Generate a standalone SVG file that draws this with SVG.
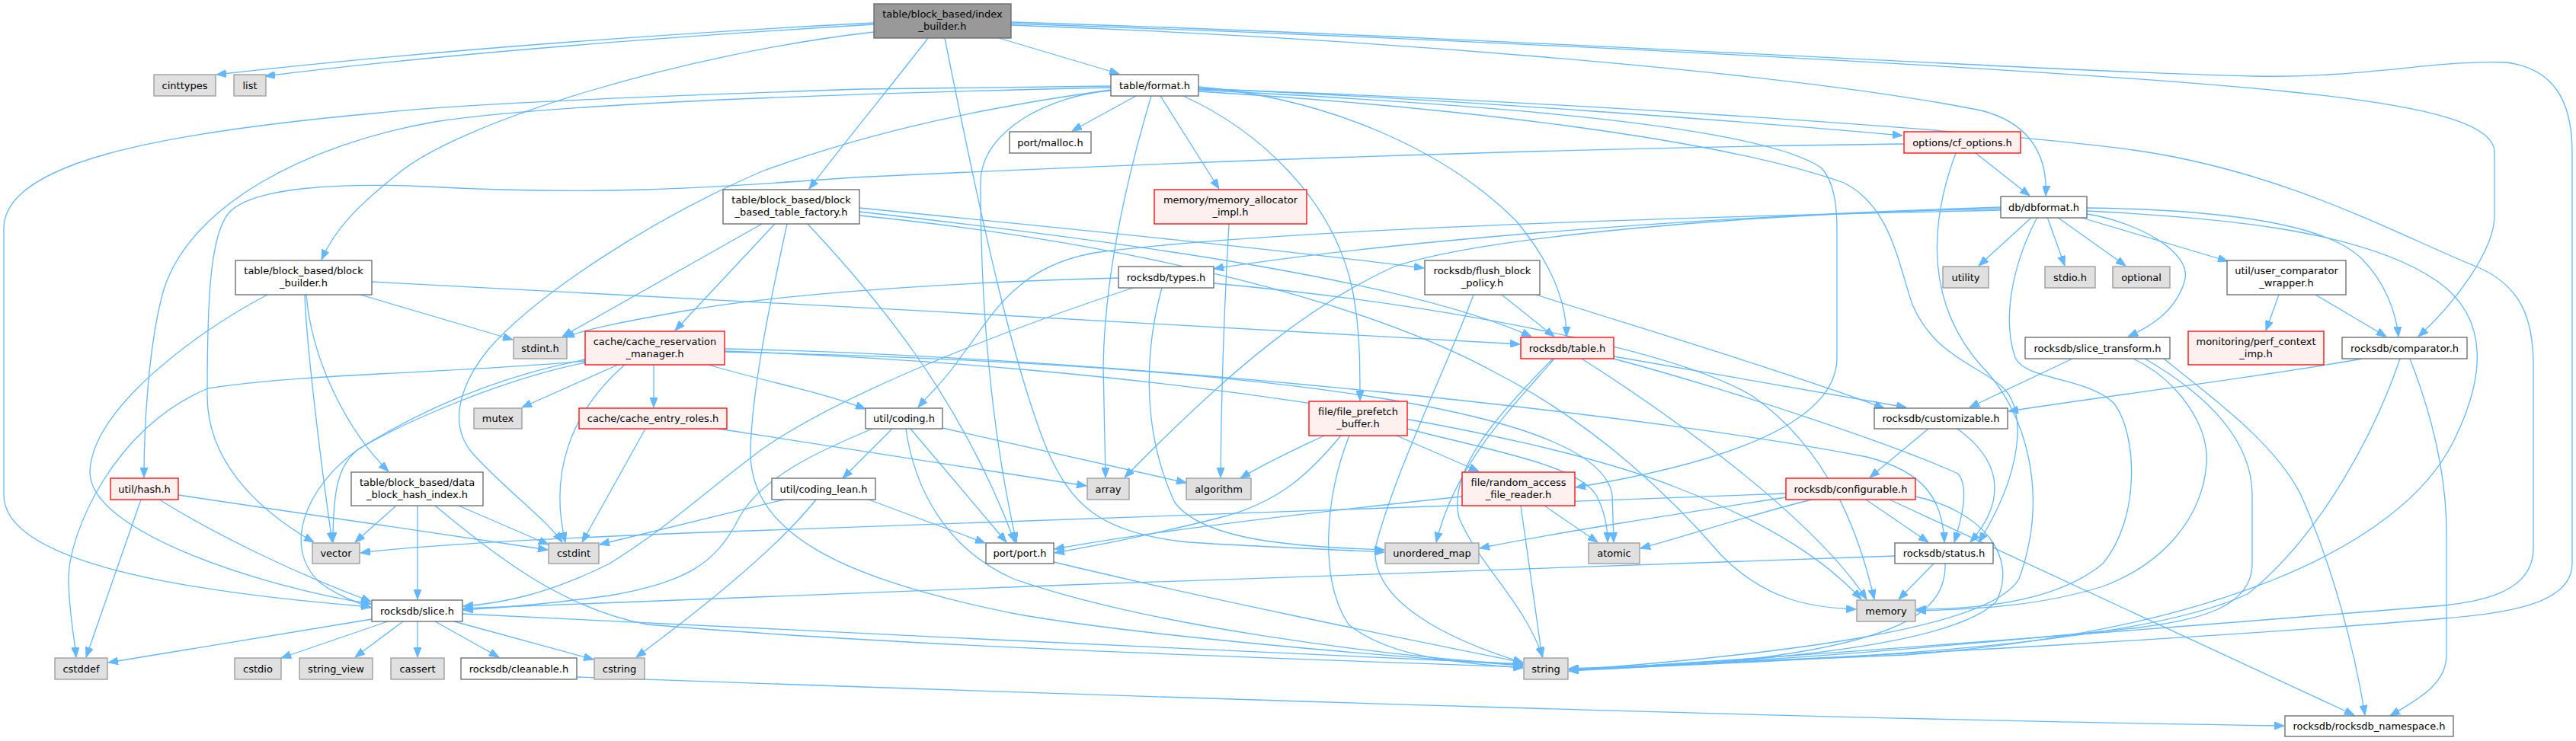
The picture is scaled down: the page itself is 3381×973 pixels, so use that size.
<svg xmlns="http://www.w3.org/2000/svg" width="3381" height="973" viewBox="0 0 3381 973">
<style>
.e{fill:none;stroke:#63b8ff;stroke-width:1.3;marker-end:url(#a)}
rect{stroke-width:1.3}
.n rect{fill:#ffffff;stroke:#666666}
.g rect{fill:#e0e0e0;stroke:#999999}
.r rect{fill:#fff0f0;stroke:#ff0000}
.root rect{fill:#999999;stroke:#666666}
text{font-family:"DejaVu Sans","Liberation Sans",sans-serif;font-size:13px;text-anchor:middle;fill:#000000}
</style>
<defs>
<marker id="a" markerWidth="13" markerHeight="10" refX="13" refY="5" orient="auto" markerUnits="userSpaceOnUse"><path d="M0,0 L13,5 L0,10 z" fill="#63b8ff" stroke="#63b8ff" stroke-width="1"/></marker>
</defs>
<rect x="0" y="0" width="3381" height="973" fill="#ffffff"/>
<g id="connectors">
<path class="e" d="M1147,30 C950,40 600,62 284,98"/>
<path class="e" d="M1147,32 C950,44 620,66 348,100"/>
<path class="e" d="M1311,50 L1469,97"/>
<path class="e" d="M1147,42 C900,70 600,160 520,230 C470,270 440,300 422,341"/>
<path class="e" d="M1218,50 C1180,100 1110,185 1062,248"/>
<path class="e" d="M1240,50 C1290,300 1330,480 1374,590 C1405,660 1440,700 1560,712 C1650,718 1760,722 1817,725"/>
<path class="e" d="M1327,33 C1800,50 2350,95 2600,145 C2660,160 2688,200 2685,257"/>
<path class="e" d="M1327,31 C1900,50 2700,90 3000,120 C3200,140 3274,165 3274,200 L3274,283 C3274,330 3220,400 3174,442"/>
<path class="e" d="M1327,29 C2000,50 2700,95 2959,100 C3100,103 3200,78 3290,82 C3350,90 3376,130 3376,200 L3376,740 C3376,790 3300,805 3208,812 C3000,830 2500,862 2059,878"/>
<path class="e" d="M1458,113 L1130,117 C900,125 620,135 500,148 C200,175 5,215 5,300 L5,650 C5,740 250,778 487,797"/>
<path class="e" d="M1458,115 C1000,125 700,140 570,160 C400,190 250,270 215,380 C195,450 189,560 189,627"/>
<path class="e" d="M1458,118 C1300,140 1150,170 1000,225 C850,290 700,390 640,460 C600,510 590,560 620,595 C660,640 715,680 738,712"/>
<path class="e" d="M1458,119 C1380,125 1287,170 1287,240 C1287,400 1300,560 1334,712"/>
<path class="e" d="M1491,126 L1407,172"/>
<path class="e" d="M1523,126 L1600,248"/>
<path class="e" d="M1511,126 C1480,230 1450,360 1448,480 L1451,627"/>
<path class="e" d="M1553,126 C1650,170 1750,260 1775,380 C1785,430 1785,480 1785,526"/>
<path class="e" d="M1573,114 C1750,130 1900,200 1990,290 C2040,350 2056,400 2056,442"/>
<path class="e" d="M1573,116 C1900,130 2300,160 2497,178"/>
<path class="e" d="M1573,118 C1900,135 2300,160 2390,220 C2410,240 2411,280 2411,300 L2411,470 C2411,560 2250,610 2068,640"/>
<path class="e" d="M1573,120 C1900,140 2250,180 2420,240 C2480,270 2490,340 2510,400 C2540,470 2600,480 2630,510 C2660,540 2655,620 2597,712"/>
<path class="e" d="M1573,117 C2000,130 2600,170 2800,197 C3000,225 3150,310 3250,350 C3310,375 3325,420 3325,480 L3325,720 C3325,780 3250,790 3208,795 C2900,820 2400,860 2059,880"/>
<path class="e" d="M473,387 L673,446"/>
<path class="e" d="M488,370 C900,390 1600,430 1995,452"/>
<path class="e" d="M351,387 C250,440 120,540 118,620 C118,700 350,772 487,793"/>
<path class="e" d="M400,387 C402,450 420,600 436,712"/>
<path class="e" d="M402,387 C410,480 460,570 510,619"/>
<path class="e" d="M1000,294 L738,442"/>
<path class="e" d="M1017,294 L886,434"/>
<path class="e" d="M1033,294 C1010,400 985,520 985,600 C990,700 1100,760 1338,807 C1500,835 1800,860 1999,874"/>
<path class="e" d="M1060,294 C1150,390 1260,520 1332,712"/>
<path class="e" d="M1128,273 C1400,300 1700,330 1869,352"/>
<path class="e" d="M1128,278 C1500,320 1850,370 2010,442"/>
<path class="e" d="M1128,283 C1500,320 1800,400 1964,490 C2100,560 2200,660 2260,730 C2320,790 2380,798 2436,800"/>
<path class="e" d="M2499,189 C2000,195 1500,215 1120,233 C950,245 800,258 560,245 C450,240 330,245 300,280 C275,310 272,400 272,520 C272,600 330,665 412,712"/>
<path class="e" d="M2593,201 L2664,257"/>
<path class="e" d="M2567,201 C2530,300 2530,400 2600,480 C2660,540 2690,650 2650,760 C2610,830 2300,862 2059,880"/>
<path class="e" d="M2667,285 L2597,349"/>
<path class="e" d="M2687,285 L2710,349"/>
<path class="e" d="M2700,285 L2790,349"/>
<path class="e" d="M2739,281 C2800,290 2880,330 2867,370 C2855,410 2820,430 2793,442"/>
<path class="e" d="M2729,285 L2924,343"/>
<path class="e" d="M2739,273 C2900,275 3050,290 3100,340 C3130,370 3145,410 3148,442"/>
<path class="e" d="M2739,277 C2900,285 3100,300 3200,370 C3270,420 3260,500 3220,580 C3150,720 2900,830 2500,860 C2300,870 2150,876 2059,879"/>
<path class="e" d="M2626,272 C2200,285 1800,320 1593,353"/>
<path class="e" d="M2626,274 C2300,280 1950,310 1830,350 C1720,400 1620,480 1476,627"/>
<path class="e" d="M2626,276 C2200,285 1700,300 1450,330 C1330,345 1300,420 1260,470 C1240,500 1222,515 1205,535"/>
<path class="e" d="M2674,285 C2640,350 2628,420 2645,470 C2660,500 2740,495 2775,530 C2805,570 2810,680 2760,740 C2700,790 2600,800 2515,800"/>
<path class="e" d="M1468,365 C1200,372 1000,390 900,408 C820,422 770,432 741,443"/>
<path class="e" d="M1487,378 C1300,440 1100,520 1000,590 C920,650 880,690 800,740 C720,780 660,792 608,796"/>
<path class="e" d="M1525,378 C1505,450 1495,560 1542,660 C1580,710 1700,718 1817,722"/>
<path class="e" d="M1593,372 C1900,400 2200,460 2300,520 C2400,590 2440,700 2460,787"/>
<path class="e" d="M1971,387 L2040,442"/>
<path class="e" d="M2016,387 C2150,430 2350,490 2473,536"/>
<path class="e" d="M1934,387 C1900,480 1830,620 1805,720 C1800,790 1900,840 1999,870"/>
<path class="e" d="M811,479 L685,535"/>
<path class="e" d="M858,479 L858,535"/>
<path class="e" d="M820,479 C750,540 720,620 742,712"/>
<path class="e" d="M768,474 C600,490 400,490 273,510 C150,560 90,700 90,760 C90,800 98,840 100,863"/>
<path class="e" d="M768,476 C650,500 520,560 470,590 C445,610 437,640 437,712"/>
<path class="e" d="M768,472 C650,495 550,540 470,590 C400,640 370,720 420,765 C440,780 460,788 487,798"/>
<path class="e" d="M930,479 C1000,500 1080,515 1136,537"/>
<path class="e" d="M951,462 C1300,470 1700,490 1934,547 C2050,575 2110,610 2116,650 L2118,712"/>
<path class="e" d="M951,461 C1500,480 2000,560 2200,640 C2330,690 2400,740 2443,787"/>
<path class="e" d="M951,458 C1500,470 2200,550 2450,600 C2530,620 2550,660 2552,712"/>
<path class="e" d="M2118,468 L2502,535"/>
<path class="e" d="M2118,471 C2300,520 2500,590 2570,622 C2585,640 2575,680 2565,712"/>
<path class="e" d="M2076,471 C2200,550 2380,680 2450,787"/>
<path class="e" d="M2040,471 C1980,540 1910,610 1885,712"/>
<path class="e" d="M2038,471 C1960,550 1900,620 1915,680 C1940,740 2000,790 2025,863"/>
<path class="e" d="M2720,471 L2585,535"/>
<path class="e" d="M2800,471 C2860,500 2900,560 2896,610 C2890,680 2840,740 2760,770 C2680,795 2600,800 2515,802"/>
<path class="e" d="M2815,471 C2900,520 2956,580 2956,650 L2956,740 C2956,800 2880,815 2800,825 C2500,855 2250,872 2059,880"/>
<path class="e" d="M2840,471 C2900,520 2985,580 3020,650 C3060,740 3090,850 3104,939"/>
<path class="e" d="M3100,471 C3000,490 2800,515 2636,540"/>
<path class="e" d="M3163,471 C3190,540 3211,620 3211,700 L3211,860 C3211,900 3170,920 3137,940"/>
<path class="e" d="M3150,471 C3120,560 3050,700 2950,780 C2800,850 2400,866 2059,880"/>
<path class="e" d="M2991,387 L2974,434"/>
<path class="e" d="M3039,387 L3132,442"/>
<path class="e" d="M2531,563 L2454,627"/>
<path class="e" d="M2569,563 C2620,600 2640,650 2586,712"/>
<path class="e" d="M2449,656 L2531,712"/>
<path class="e" d="M2344,648 C1800,668 1200,690 900,700 C700,708 550,716 473,726"/>
<path class="e" d="M2344,653 C2200,675 2050,698 1942,720"/>
<path class="e" d="M2378,656 C2300,675 2220,702 2153,720"/>
<path class="e" d="M2514,652 C2600,670 2650,730 2620,790 C2560,850 2300,870 2059,881"/>
<path class="e" d="M2480,656 L3090,939"/>
<path class="e" d="M2538,740 L2492,787"/>
<path class="e" d="M2553,740 C2555,800 2500,840 2300,865 C2200,872 2120,876 2059,880"/>
<path class="e" d="M2487,730 C2000,745 1200,775 608,799"/>
<path class="e" d="M2027,664 L2097,712"/>
<path class="e" d="M1996,664 L2024,863"/>
<path class="e" d="M1919,652 C1700,675 1500,700 1384,721"/>
<path class="e" d="M1833,572 L1941,619"/>
<path class="e" d="M1847,563 C1950,590 2070,610 2095,650 C2108,675 2110,695 2110,712"/>
<path class="e" d="M1771,572 C1740,650 1730,760 1770,820 C1820,860 1900,870 1999,877"/>
<path class="e" d="M1738,572 C1700,590 1660,608 1628,628"/>
<path class="e" d="M1760,572 C1720,620 1680,660 1600,680 C1500,705 1440,716 1384,726"/>
<path class="e" d="M1237,562 L1557,634"/>
<path class="e" d="M1195,563 L1321,712"/>
<path class="e" d="M1189,563 C1200,640 1240,720 1330,760 C1500,820 1800,860 1999,873"/>
<path class="e" d="M1171,563 L1106,628"/>
<path class="e" d="M1145,563 C1080,590 1000,625 970,680 C940,740 900,765 800,782 C700,796 650,798 608,801"/>
<path class="e" d="M1029,656 L787,715"/>
<path class="e" d="M1071,656 C1020,720 920,800 835,863"/>
<path class="e" d="M1140,656 L1293,713"/>
<path class="e" d="M847,563 L764,712"/>
<path class="e" d="M943,563 L1426,638"/>
<path class="e" d="M185,656 L113,863"/>
<path class="e" d="M209,656 C280,700 380,750 487,790"/>
<path class="e" d="M234,650 L719,722"/>
<path class="e" d="M520,664 L466,712"/>
<path class="e" d="M548,664 L548,787"/>
<path class="e" d="M602,664 L720,715"/>
<path class="e" d="M571,664 C650,730 740,800 850,820 C1200,850 1700,865 1999,876"/>
<path class="e" d="M488,813 L142,870"/>
<path class="e" d="M509,816 L369,864"/>
<path class="e" d="M529,816 L466,863"/>
<path class="e" d="M548,816 L548,863"/>
<path class="e" d="M571,816 L655,863"/>
<path class="e" d="M596,816 L779,866"/>
<path class="e" d="M607,806 C1000,825 1600,855 1999,872"/>
<path class="e" d="M757,889 C1500,915 2400,945 2998,953"/>
<path class="e" d="M1383,738 C1600,790 1850,840 1999,870"/>
<path class="e" d="M1613,294 C1607,400 1603,500 1602,627"/>
</g>
<g id="index_builder" class="root"><rect x="1147" y="5" width="180" height="45"/><text x="1237" y="23">table/block_based/index</text><text x="1237" y="39">_builder.h</text></g>
<g id="cinttypes" class="g"><rect x="202" y="98" width="81" height="28"/><text x="242.5" y="116.5">cinttypes</text></g>
<g id="list" class="g"><rect x="307" y="98" width="42" height="28"/><text x="328" y="116.5">list</text></g>
<g id="format" class="n"><rect x="1458" y="98" width="115" height="28"/><text x="1515.5" y="116.5">table/format.h</text></g>
<g id="malloc" class="n"><rect x="1325" y="173" width="107" height="28"/><text x="1378.5" y="191.5">port/malloc.h</text></g>
<g id="cf_options" class="r"><rect x="2499" y="173" width="153" height="28"/><text x="2575.5" y="191.5">options/cf_options.h</text></g>
<g id="factory" class="n"><rect x="949" y="249" width="179" height="45"/><text x="1038.5" y="267">table/block_based/block</text><text x="1038.5" y="283">_based_table_factory.h</text></g>
<g id="memory_allocator" class="r"><rect x="1515" y="249" width="200" height="45"/><text x="1615" y="267">memory/memory_allocator</text><text x="1615" y="283">_impl.h</text></g>
<g id="dbformat" class="n"><rect x="2626" y="258" width="113" height="28"/><text x="2682.5" y="276.5">db/dbformat.h</text></g>
<g id="block_builder" class="n"><rect x="309" y="342" width="179" height="45"/><text x="398.5" y="360">table/block_based/block</text><text x="398.5" y="376">_builder.h</text></g>
<g id="types" class="n"><rect x="1468" y="350" width="125" height="28"/><text x="1530.5" y="368.5">rocksdb/types.h</text></g>
<g id="flush_block_policy" class="n"><rect x="1870" y="342" width="151" height="45"/><text x="1945.5" y="360">rocksdb/flush_block</text><text x="1945.5" y="376">_policy.h</text></g>
<g id="utility" class="g"><rect x="2550" y="350" width="60" height="28"/><text x="2580" y="368.5">utility</text></g>
<g id="stdio" class="g"><rect x="2684" y="350" width="66" height="28"/><text x="2717" y="368.5">stdio.h</text></g>
<g id="optional" class="g"><rect x="2773" y="350" width="75" height="28"/><text x="2810.5" y="368.5">optional</text></g>
<g id="user_comparator_wrapper" class="n"><rect x="2923" y="342" width="156" height="45"/><text x="3001" y="360">util/user_comparator</text><text x="3001" y="376">_wrapper.h</text></g>
<g id="stdint" class="g"><rect x="674" y="443" width="70" height="28"/><text x="709" y="461.5">stdint.h</text></g>
<g id="cache_reservation_manager" class="r"><rect x="768" y="435" width="183" height="44"/><text x="859.5" y="453">cache/cache_reservation</text><text x="859.5" y="469">_manager.h</text></g>
<g id="table" class="r"><rect x="1996" y="443" width="122" height="28"/><text x="2057" y="461.5">rocksdb/table.h</text></g>
<g id="slice_transform" class="n"><rect x="2658" y="443" width="190" height="28"/><text x="2753" y="461.5">rocksdb/slice_transform.h</text></g>
<g id="perf_context_imp" class="r"><rect x="2872" y="435" width="178" height="44"/><text x="2961" y="453">monitoring/perf_context</text><text x="2961" y="469">_imp.h</text></g>
<g id="comparator" class="n"><rect x="3074" y="443" width="164" height="28"/><text x="3156" y="461.5">rocksdb/comparator.h</text></g>
<g id="mutex" class="g"><rect x="622" y="536" width="63" height="27"/><text x="653.5" y="554">mutex</text></g>
<g id="cache_entry_roles" class="r"><rect x="760" y="536" width="194" height="27"/><text x="857" y="554">cache/cache_entry_roles.h</text></g>
<g id="coding" class="n"><rect x="1136" y="536" width="101" height="27"/><text x="1186.5" y="554">util/coding.h</text></g>
<g id="file_prefetch_buffer" class="r"><rect x="1718" y="527" width="129" height="45"/><text x="1782.5" y="545">file/file_prefetch</text><text x="1782.5" y="561">_buffer.h</text></g>
<g id="customizable" class="n"><rect x="2460" y="536" width="175" height="27"/><text x="2547.5" y="554">rocksdb/customizable.h</text></g>
<g id="hash" class="r"><rect x="145" y="628" width="89" height="28"/><text x="189.5" y="646.5">util/hash.h</text></g>
<g id="data_block_hash_index" class="n"><rect x="461" y="620" width="173" height="44"/><text x="547.5" y="638">table/block_based/data</text><text x="547.5" y="654">_block_hash_index.h</text></g>
<g id="coding_lean" class="n"><rect x="1013" y="628" width="136" height="28"/><text x="1081" y="646.5">util/coding_lean.h</text></g>
<g id="array" class="g"><rect x="1427" y="628" width="55" height="28"/><text x="1454.5" y="646.5">array</text></g>
<g id="algorithm" class="g"><rect x="1557" y="628" width="85" height="28"/><text x="1599.5" y="646.5">algorithm</text></g>
<g id="random_access_file_reader" class="r"><rect x="1919" y="620" width="148" height="44"/><text x="1993" y="638">file/random_access</text><text x="1993" y="654">_file_reader.h</text></g>
<g id="configurable" class="r"><rect x="2344" y="628" width="170" height="28"/><text x="2429" y="646.5">rocksdb/configurable.h</text></g>
<g id="vector" class="g"><rect x="410" y="713" width="62" height="27"/><text x="441" y="731">vector</text></g>
<g id="cstdint" class="g"><rect x="720" y="713" width="66" height="27"/><text x="753" y="731">cstdint</text></g>
<g id="port" class="n"><rect x="1294" y="713" width="89" height="27"/><text x="1338.5" y="731">port/port.h</text></g>
<g id="unordered_map" class="g"><rect x="1818" y="713" width="123" height="27"/><text x="1879.5" y="731">unordered_map</text></g>
<g id="atomic" class="g"><rect x="2085" y="713" width="67" height="27"/><text x="2118.5" y="731">atomic</text></g>
<g id="status" class="n"><rect x="2487" y="713" width="129" height="27"/><text x="2551.5" y="731">rocksdb/status.h</text></g>
<g id="slice" class="n"><rect x="488" y="788" width="119" height="28"/><text x="547.5" y="806.5">rocksdb/slice.h</text></g>
<g id="memory" class="g"><rect x="2437" y="788" width="77" height="28"/><text x="2475.5" y="806.5">memory</text></g>
<g id="cstddef" class="g"><rect x="72" y="864" width="69" height="28"/><text x="106.5" y="882.5">cstddef</text></g>
<g id="cstdio" class="g"><rect x="308" y="864" width="61" height="28"/><text x="338.5" y="882.5">cstdio</text></g>
<g id="string_view" class="g"><rect x="393" y="864" width="96" height="28"/><text x="441" y="882.5">string_view</text></g>
<g id="cassert" class="g"><rect x="513" y="864" width="70" height="28"/><text x="548" y="882.5">cassert</text></g>
<g id="cleanable" class="n"><rect x="605" y="864" width="152" height="28"/><text x="681" y="882.5">rocksdb/cleanable.h</text></g>
<g id="cstring" class="g"><rect x="780" y="864" width="66" height="28"/><text x="813" y="882.5">cstring</text></g>
<g id="string" class="g"><rect x="2000" y="864" width="58" height="28"/><text x="2029" y="882.5">string</text></g>
<g id="rocksdb_namespace" class="n"><rect x="2999" y="940" width="221" height="27"/><text x="3109.5" y="958">rocksdb/rocksdb_namespace.h</text></g>
</svg>
